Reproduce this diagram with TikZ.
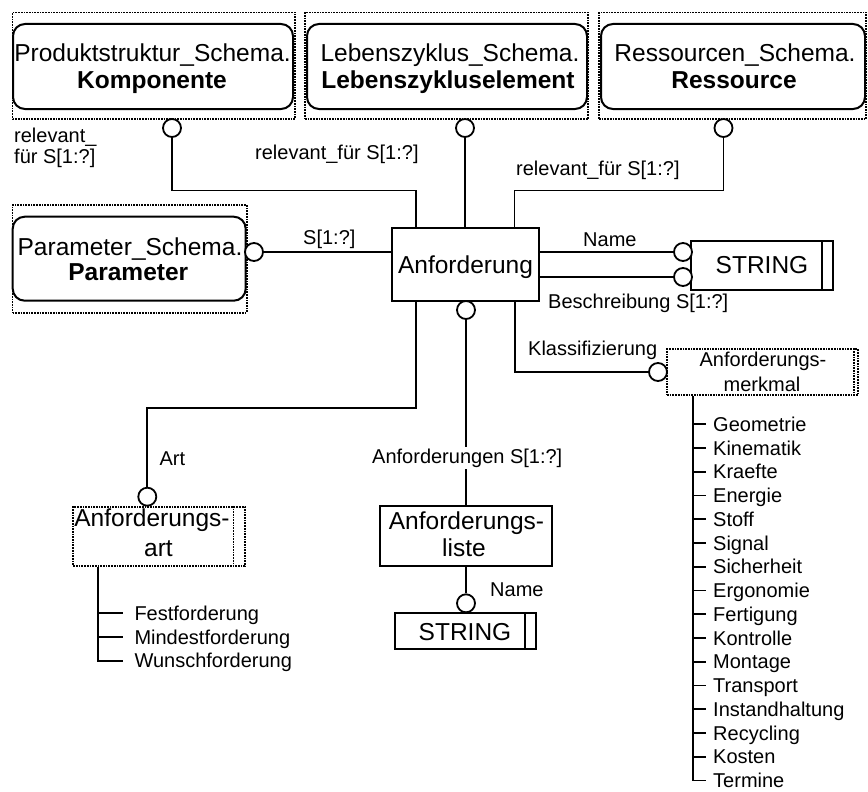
\documentclass[tikz,border=0pt]{standalone}
\usepackage{fontspec}
\setmainfont{Liberation Sans}
\usetikzlibrary{calc,fit}
\begin{document}
\begin{tikzpicture}[x=1pt,y=-1pt,
  ln/.style={line width=1.8pt},
  ent/.style={draw, line width=1.8pt, inner sep=0pt},
  rbox/.style={draw, line width=2pt, rounded corners=12pt, inner sep=0pt},
  dbox/.style={draw, densely dotted, line width=1.7pt, inner sep=0pt},
  dl/.style={densely dotted, line width=1.7pt},
  rc/.style={draw, circle, line width=1.8pt, fill=white, minimum size=18pt, inner sep=0pt},
  big/.style={font=\fontsize{24.5}{28}\selectfont, inner sep=0pt},
  bigb/.style={font=\fontsize{24.5}{28}\selectfont\bfseries, inner sep=0pt},
  lbl/.style={font=\fontsize{20}{22}\selectfont, inner sep=0pt},
]
\fill[white] (0,0) rectangle (868,792);
\useasboundingbox (0,0) rectangle (868,792);

% ---- referenced entities (other schemas) ----
\node[dbox, fit={(12.5,12.5) (295,119)}] (kompd) {};
\node[rbox, fit={(13,24) (293,109)}] (komp) {};
\node[big, anchor=base] (komp1) at (152.5,62) {Produktstruktur\_Schema.};
\node[bigb, anchor=base] (komp2) at (152,88.3) {Komponente};

\node[dbox, fit={(305,12.5) (588,119)}] (lebd) {};
\node[rbox, fit={(307,24) (587,109)}] (leb) {};
\node[big, anchor=base] (leb1) at (450,61.7) {Lebenszyklus\_Schema.};
\node[bigb, anchor=base] (leb2) at (448,88.3) {Lebenszykluselement};

\node[dbox, fit={(599,12.5) (866,119)}] (resd) {};
\node[rbox, fit={(601,24) (865,109)}] (res) {};
\node[big, anchor=base] (res1) at (735,61.7) {Ressourcen\_Schema.};
\node[bigb, anchor=base] (res2) at (734,88.3) {Ressource};

\node[dbox, fit={(12.5,205) (246.7,312.7)}] (pard) {};
\node[rbox, fit={(12.7,216.7) (245.7,300.7)}] (par) {};
\node[big, anchor=base] (par1) at (130,255) {Parameter\_Schema.};
\node[bigb, anchor=base] (par2) at (128.3,280.7) {Parameter};

% ---- central entity ----
\node[ent, fit={(392,228) (539,301)}] (anf) {};
\node[big, anchor=base] (anft) at (465.5,273.5) {Anforderung};

% ---- STRING types ----
\node[ent, fit={(691,241) (833,290)}] (sr) {};
\draw[ln] ([xshift=-12pt]sr.north east) -- ([xshift=-12pt]sr.south east);
\node[big, anchor=base] (srt) at (762,273.3) {STRING};

\node[ent, fit={(395,613.3) (536,649.3)}] (sl) {};
\draw[ln] ([xshift=-11.7pt]sl.north east) -- ([xshift=-11.7pt]sl.south east);
\node[big, anchor=base] (slt) at (465,640.7) {STRING};

% ---- Anforderungsliste ----
\node[ent, fit={(380,505.7) (552,565.7)}] (liste) {};
\node[big, anchor=base] (liste1) at (466.5,529) {Anforderungs-};
\node[big, anchor=base] (liste2) at (464,556.7) {liste};

% ---- enumerations ----
\node[dbox, fit={(73.3,506.7) (245,565.7)}] (artd) {};
\draw[dl] ([xshift=-12.3pt]artd.north east) -- ([xshift=-12.3pt]artd.south east);
\node[big, anchor=base] (art1) at (152,526.7) {Anforderungs-};
\node[big, anchor=base] (art2) at (158.5,556.7) {art};

\node[dbox, fit={(667,349.3) (858,395)}] (merkd) {};
\draw[dl] ([xshift=-5pt]merkd.north east) -- ([xshift=-5pt]merkd.south east);
\node[lbl, anchor=base] (merk1) at (763,366.7) {Anforderungs-};
\node[lbl, anchor=base] (merk2) at (762,391) {merkmal};

% ---- relationship circles ----
\node[rc] (ckomp) at (172,128) {};
\node[rc] (cleb) at (465,128) {};
\node[rc] (cres) at (723.5,128) {};
\node[rc] (cpar) at (254,252) {};
\node[rc] (cn1) at (683,252) {};
\node[rc] (cn2) at (683,277) {};
\node[rc] (canf) at (466,310) {};
\node[rc] (cmerk) at (658,372) {};
\node[rc] (cart) at (147.3,496.7) {};
\node[rc] (cname) at (466,603.3) {};

% ---- connectors ----
\coordinate (t1) at (416,190.5);
\coordinate (t3) at (514.5,190.5);
\draw[ln] (ckomp.south) |- (t1) -- (t1 |- anf.north);
\draw[ln] (cleb.south) -- (cleb.south |- anf.north);
\draw[ln] (cres.south) |- (t3) -- (t3 |- anf.north);
\draw[ln] (cpar.east) -- (cpar.east -| anf.west);
\draw[ln] (anf.east |- cn1) -- (cn1.west);
\draw[ln] (anf.east |- cn2) -- (cn2.west);

\coordinate (b1) at (416,408);
\coordinate (b3) at (515,372);
\draw[ln] (b1 |- anf.south) -- (b1) -| (cart.north);
\draw[ln] (b3 |- anf.south) -- (b3) -- (cmerk.west);
\draw[ln] (canf.south) -- (canf.south |- liste.north);
\draw[ln] (liste.south -| cname) -- (cname.north);

% ---- attribute labels ----
\node[lbl, anchor=base west] (l1a) at (14,142) {relevant\_};
\node[lbl, anchor=base west] (l1b) at (14,163) {für S[1:?]};
\node[lbl, anchor=base west] (l2) at (255,159) {relevant\_für S[1:?]};
\node[lbl, anchor=base west] (l3) at (516,175) {relevant\_für S[1:?]};
\node[lbl, anchor=base west] (l4) at (303,244) {S[1:?]};
\node[lbl, anchor=base west] (l5) at (583,246.7) {Name};
\node[lbl, anchor=base west] (l6) at (548,308) {Beschreibung S[1:?]};
\node[lbl, anchor=base west] (l7) at (528,355) {Klassifizierung};
\node[lbl, anchor=base west] (l8) at (159.3,465) {Art};
\node[lbl, anchor=base west, fill=white, inner ysep=2pt] (l9) at (372,463) {Anforderungen S[1:?]};
\node[lbl, anchor=base west] (l10) at (490,596.7) {Name};

% ---- enumeration items: Anforderungsart ----
\coordinate (ar) at (98.3,0);
\foreach \w [count=\i from 0] in {Festforderung,Mindestforderung,Wunschforderung}{
  \pgfmathsetmacro\yy{613.3+\i*23.7}
  \node[lbl, anchor=base west] (a\i) at (134.3,\yy+7) {\w};
}
\draw[ln] (ar |- artd.south) -- (98.3,660.7) -- (123.3,660.7);
\draw[ln] (98.3,613.3) -- (123.3,613.3);
\draw[ln] (98.3,637.0) -- (123.3,637.0);

% ---- enumeration items: Anforderungsmerkmal ----
\coordinate (mr) at (693.3,0);
\foreach \w [count=\i from 0] in {Geometrie,Kinematik,Kraefte,Energie,Stoff,Signal,Sicherheit,Ergonomie,Fertigung,Kontrolle,Montage,Transport,Instandhaltung,Recycling,Kosten,Termine}{
  \pgfmathsetmacro\yy{424.3+\i*23.75}
  \node[lbl, anchor=base west] (m\i) at (713,\yy+7) {\w};
  \draw[ln] (693.3,\yy) -- (706,\yy);
}
\draw[ln] (mr |- merkd.south) -- (693.3,780.55) -- (706,780.55);
\end{tikzpicture}
\end{document}
